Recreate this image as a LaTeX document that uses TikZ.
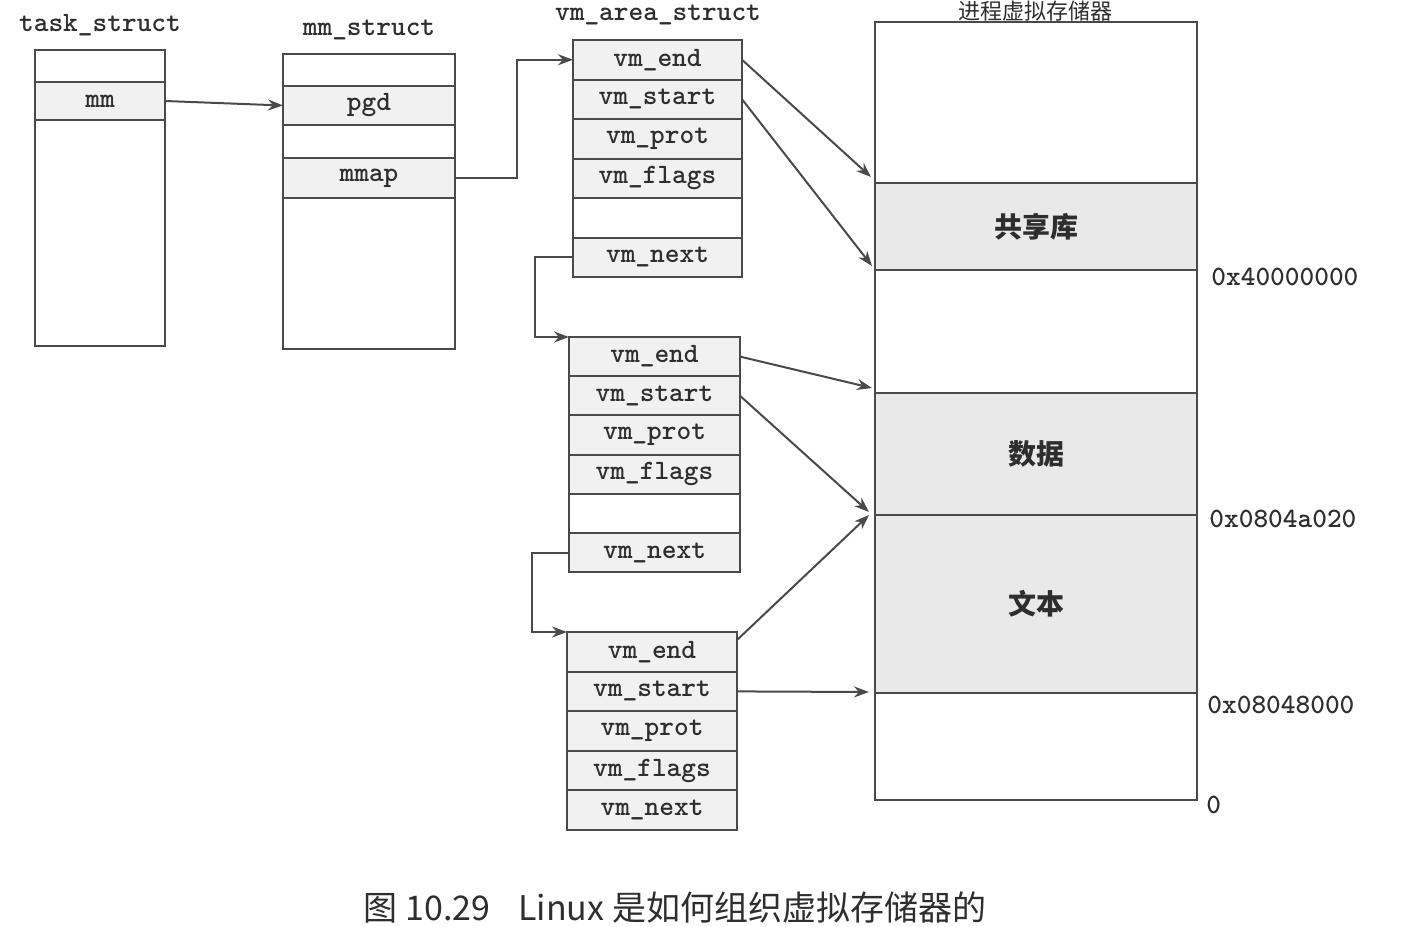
\documentclass[tikz,border=0pt]{standalone}
\usepackage{fontspec}
\newfontfamily\cjk{Noto Sans CJK SC}
\usetikzlibrary{positioning,calc,arrows.meta}
\definecolor{linec}{HTML}{4A4A4A}
\definecolor{textc}{HTML}{2E2E2E}
\definecolor{cellfill}{HTML}{F1F1F1}
\definecolor{memfill}{HTML}{E9E9E9}
\begin{document}
\begin{tikzpicture}[x=0.5pt,y=-0.5pt,
  cell/.style={draw=linec, line width=1pt, inner sep=0pt, outer sep=0pt,
    anchor=north west, text=textc, font=\ttfamily\bfseries\fontsize{14}{16}\selectfont},
  field/.style={cell, fill=cellfill},
  memseg/.style={cell, minimum width=161pt, fill=white},
  memshade/.style={memseg, fill=memfill, font=\cjk\bfseries\fontsize{14}{16}\selectfont},
  title/.style={text=textc, font=\ttfamily\bfseries\fontsize{14}{16}\selectfont, inner sep=0pt},
  addr/.style={text=textc, font=\ttfamily\bfseries\fontsize{14}{16}\selectfont, inner sep=0pt, anchor=west},
  link/.style={draw=linec, line width=1pt, -{Stealth[length=7.5pt,width=5.5pt]}}
]
\useasboundingbox (0,0) rectangle (1406,926);

% ---- task_struct ----
\node[title] (tstitle) at (100,25) {task\_struct};
\node[cell, minimum width=65pt, minimum height=16pt] (ts0) at (35,50) {};
\node[field, minimum width=65pt, minimum height=19pt, below=0pt of ts0] (tsmm) {mm};
\node[cell, minimum width=65pt, minimum height=113pt, below=0pt of tsmm] (tsrest) {};

% ---- mm_struct ----
\node[title] (mmtitle) at (369,30) {mm\_struct};
\node[cell, minimum width=86pt, minimum height=16pt] (mm0) at (283,54) {};
\node[field, minimum width=86pt, minimum height=19.5pt, below=0pt of mm0] (mmpgd) {pgd};
\node[cell, minimum width=86pt, minimum height=16.5pt, below=0pt of mmpgd] (mm2) {};
\node[field, minimum width=86pt, minimum height=20pt, below=0pt of mm2] (mmmap) {mmap};
\node[cell, minimum width=86pt, minimum height=75.5pt, below=0pt of mmmap] (mmrest) {};

% ---- vm_area_struct #1 ----
\node[title] (vmtitle) at (658,15) {vm\_area\_struct};
\begin{scope}[every node/.append style={minimum width=84.5pt, minimum height=19.75pt}]
\node[field] (a1end) at (573,40) {vm\_end};
\node[field, below=0pt of a1end] (a1start) {vm\_start};
\node[field, below=0pt of a1start] (a1prot) {vm\_prot};
\node[field, below=0pt of a1prot] (a1flags) {vm\_flags};
\node[cell, below=0pt of a1flags] (a1empty) {};
\node[field, below=0pt of a1empty] (a1next) {vm\_next};
\end{scope}

% ---- vm_area_struct #2 ----
\begin{scope}[every node/.append style={minimum width=85.5pt, minimum height=19.6pt}]
\node[field] (a2end) at (569,337) {vm\_end};
\node[field, below=0pt of a2end] (a2start) {vm\_start};
\node[field, below=0pt of a2start] (a2prot) {vm\_prot};
\node[field, below=0pt of a2prot] (a2flags) {vm\_flags};
\node[cell, below=0pt of a2flags] (a2empty) {};
\node[field, below=0pt of a2empty] (a2next) {vm\_next};
\end{scope}

% ---- vm_area_struct #3 ----
\begin{scope}[every node/.append style={minimum width=85pt, minimum height=19.8pt}]
\node[field] (a3end) at (567,632) {vm\_end};
\node[field, below=0pt of a3end] (a3start) {vm\_start};
\node[field, below=0pt of a3start] (a3prot) {vm\_prot};
\node[field, below=0pt of a3prot] (a3flags) {vm\_flags};
\node[field, below=0pt of a3flags] (a3next) {vm\_next};
\end{scope}

% ---- process virtual memory ----
\node[text=textc, font=\cjk\fontsize{11}{13}\selectfont, inner sep=0pt] (memtitle) at (1035,11.5) {进程虚拟存储器};
\node[memseg, minimum height=80.5pt] (mtop) at (875,22) {};
\node[memshade, minimum height=43.5pt, below=0pt of mtop] (mshlib) {共享库};
\node[memseg, minimum height=61.5pt, below=0pt of mshlib] (mgap) {};
\node[memshade, minimum height=61pt, below=0pt of mgap] (mdata) {数据};
\node[memshade, minimum height=89pt, below=0pt of mdata] (mtext) {文本};
\node[memseg, minimum height=53.5pt, below=0pt of mtext] (mbot) {};

% address labels
\node[addr] (ad1) at (1211,277) {0x40000000};
\node[addr] (ad2) at (1209,519) {0x0804a020};
\node[addr] (ad3) at (1207,705) {0x08048000};
\node[addr] (ad4) at (1206,805) {0};

% ---- pointers between structures ----
\draw[link] (tsmm.east) -- (mmpgd.west);
\draw[link] (mmmap.east) -- ++(62,0) |- (a1end.west);
\draw[link] (a1next.west) -- ++(-38,0) |- (a2end.north west);
\draw[link] (a2next.west) -- ++(-37,0) |- (a3end.north west);

% ---- area bounds into the address space ----
\draw[link] (a1end.east) -- ($(mshlib.north west)+(-4,-6)$);
\draw[link] (a1start.east) -- ($(mshlib.south west)+(-3,-4)$);
\draw[link] (a2end.east) -- ($(mdata.north west)+(-3,-5)$);
\draw[link] (a2start.east) -- ($(mtext.north west)+(-6,-3)$);
\draw[link] ($(a3end.north east)+(0,8)$) -- ($(mtext.north west)+(-6,0)$);
\draw[link] (a3start.east) -- ($(mbot.north west)+(-6,-1)$);

% ---- caption ----
\node[text=textc, font=\cjk\fontsize{17}{20}\selectfont, inner sep=0pt] (caption) at (675,908)
  {图 10.29\hspace{14pt}Linux 是如何组织虚拟存储器的};
\end{tikzpicture}
\end{document}
